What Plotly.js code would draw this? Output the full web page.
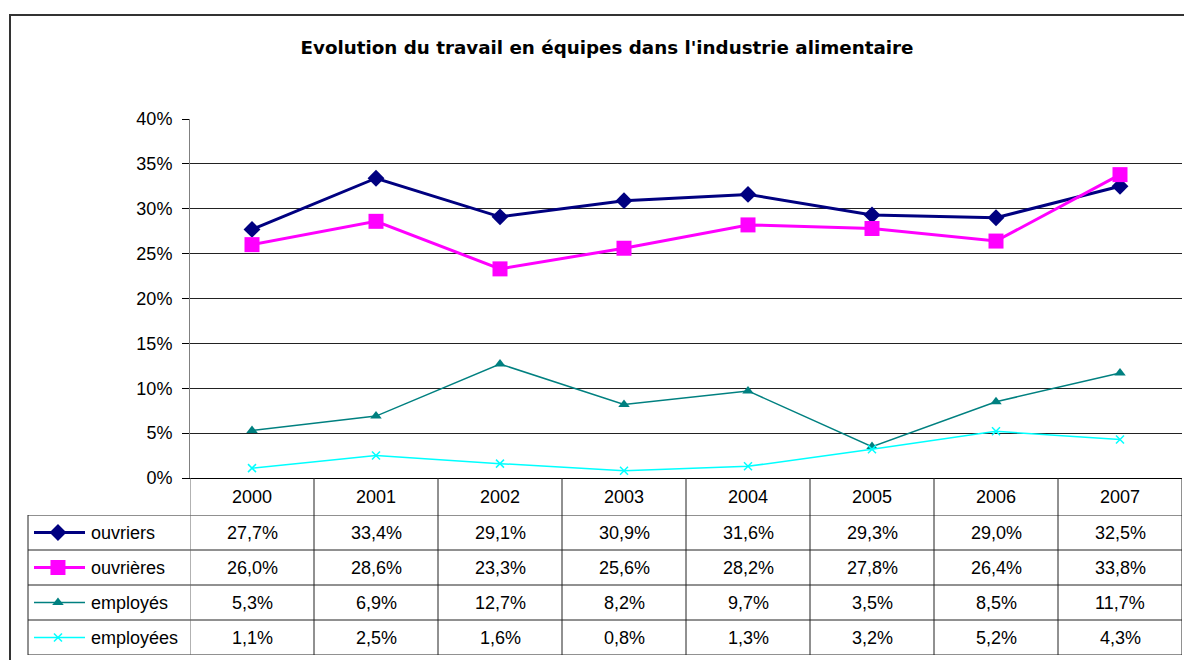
<!DOCTYPE html>
<html>
<head>
<meta charset="utf-8">
<script src="https://cdn.plot.ly/plotly-3.0.1.min.js"></script>
<style>html,body{margin:0;padding:0;background:#fff;}#chart{width:1184px;height:660px;}</style>
</head>
<body>
<div id="chart"></div>
<script>
const years = ['2000','2001','2002','2003','2004','2005','2006','2007'];
const ouvriers  = [0.277,0.334,0.291,0.309,0.316,0.293,0.290,0.325];
const ouvrieres = [0.260,0.286,0.233,0.256,0.282,0.278,0.264,0.338];
const employes  = [0.053,0.069,0.127,0.082,0.097,0.035,0.085,0.117];
const employees = [0.011,0.025,0.016,0.008,0.013,0.032,0.052,0.043];
const seriesNames = ['ouvriers','ouvrières','employés','employées'];
const seriesValues = [ouvriers, ouvrieres, employes, employees];
const yTickVals = [0,0.05,0.10,0.15,0.20,0.25,0.30,0.35,0.40];
const chartTitle = "Evolution du travail en équipes dans l'industrie alimentaire";

const W = 1184, H = 660, ML = 10, MT = 15, MR = 2, MB = 5;
const PW = W - ML - MR, PH = H - MT - MB;
const px = x => (x - ML) / PW;
const py = y => 1 - (y - MT) / PH;

const styles = [
  {color:'#000080', width:3,   symbol:'diamond',   size:13, lw:0},
  {color:'#FF00FF', width:3,   symbol:'square',    size:15, lw:0},
  {color:'#008080', width:1.5, symbol:'triangle-up', size:10, lw:0},
  {color:'#00FFFF', width:1.5, symbol:'x-thin',    size:8,  lw:1.5}
];
const FONT = '"Liberation Sans", Arial, sans-serif';
const TXT = 18;

const traces = [];
seriesValues.forEach((vals, i) => {
  const s = styles[i];
  traces.push({
    type:'scatter', mode:'lines+markers', x: years, y: vals, name: seriesNames[i],
    xaxis:'x', yaxis:'y', cliponaxis:false,
    line:{color:s.color, width:s.width},
    marker:{symbol:s.symbol, size:s.size, color:s.color, opacity:1, line:{color:s.color, width:s.lw}},
    hoverinfo:'skip'
  });
  // legend key sample in the table
  traces.push({
    type:'scatter', mode:'lines', x:[0,1], y:[i,i],
    xaxis:'x2', yaxis:'y2', cliponaxis:false, showlegend:false,
    line:{color:s.color, width:s.width}, hoverinfo:'skip'
  });
  traces.push({
    type:'scatter', mode:'markers', x:[0.47], y:[i],
    xaxis:'x2', yaxis:'y2', cliponaxis:false, showlegend:false,
    marker:{symbol:s.symbol, size:s.size, color:s.color, opacity:1, line:{color:s.color, width:s.lw}},
    hoverinfo:'skip'
  });
});

const fmt = v => (v*100).toFixed(1).replace('.', ',') + '%';
const annotations = [];
const shapes = [];
const lineCol = '#222';

// outer chart border
shapes.push({type:'rect', xref:'paper', yref:'paper', x0:0, x1:1.05, y0:-0.05, y1:1,
  line:{color:'#333', width:2}, layer:'below'});

// header years
years.forEach((yr, k) => {
  annotations.push({xref:'x', yref:'paper', x:k, y:py(497), text:yr, showarrow:false,
    xanchor:'center', yanchor:'middle', font:{family:FONT, size:TXT, color:'#000'}});
});
// values and row names
seriesValues.forEach((vals, i) => {
  annotations.push({xref:'paper', yref:'y2', x:px(89), y:i, text:seriesNames[i], showarrow:false,
    xanchor:'left', yanchor:'middle', font:{family:FONT, size:TXT, color:'#000'}});
  vals.forEach((v, k) => {
    annotations.push({xref:'x', yref:'y2', x:k, y:i, text:fmt(v), showarrow:false,
      xanchor:'center', yanchor:'middle', font:{family:FONT, size:TXT, color:'#000'}});
  });
});
// horizontal table lines
[-0.5,0.5,1.5,2.5,3.5].forEach(r => {
  shapes.push({type:'line', xref:'paper', yref:'y2', x0:px(28), x1:1, y0:r, y1:r,
    line:{color:lineCol, width:1}});
});
// left border
shapes.push({type:'line', xref:'paper', yref:'y2', x0:px(28), x1:px(28), y0:-0.5, y1:3.5,
  line:{color:lineCol, width:1}});
// vertical lines at category boundaries
for (let k = 0; k <= years.length; k++) {
  shapes.push({type:'line', xref:'x', yref:'paper', x0:k-0.5, x1:k-0.5, y0:0, y1:py(478),
    line:{color: k===0 ? '#666' : lineCol, width:1}});
}

const layout = {
  width:W, height:H,
  margin:{l:ML, r:MR, t:MT, b:MB, pad:0},
  paper_bgcolor:'#fff', plot_bgcolor:'rgba(0,0,0,0)',
  showlegend:false,
  font:{family:FONT, color:'#000'},
  title:{text:chartTitle, x:607/W, xref:'container', y:1-48/H, yref:'container',
    xanchor:'center', yanchor:'middle',
    font:{family:'"DejaVu Sans", Verdana, sans-serif', size:18.3, weight:'bold', color:'#000'}},
  xaxis:{domain:[px(190),1], type:'category', categoryorder:'array', categoryarray:years,
    range:[-0.5, years.length-0.5], showticklabels:false, ticks:'', showgrid:false,
    zeroline:false, showline:true, linecolor:'#000', linewidth:1, fixedrange:true},
  yaxis:{domain:[py(478), py(119)], range:[0,0.40], tickvals:yTickVals, tickformat:'.0%',
    ticks:'outside', ticklen:7, tickcolor:'#000', ticklabelstandoff:6,
    showline:true, linecolor:'#808080', linewidth:1,
    showgrid:true, gridcolor:'#222', gridwidth:1, zeroline:false,
    tickfont:{family:FONT, size:TXT, color:'#000'}, fixedrange:true},
  xaxis2:{domain:[px(34), px(85)], range:[0,1], visible:false, fixedrange:true, anchor:'y2'},
  yaxis2:{domain:[py(655), py(515)], range:[3.5,-0.5], visible:false, fixedrange:true, anchor:'x2'},
  shapes, annotations
};

Plotly.newPlot('chart', traces, layout, {staticPlot:true, displayModeBar:false});
</script>
</body>
</html>
